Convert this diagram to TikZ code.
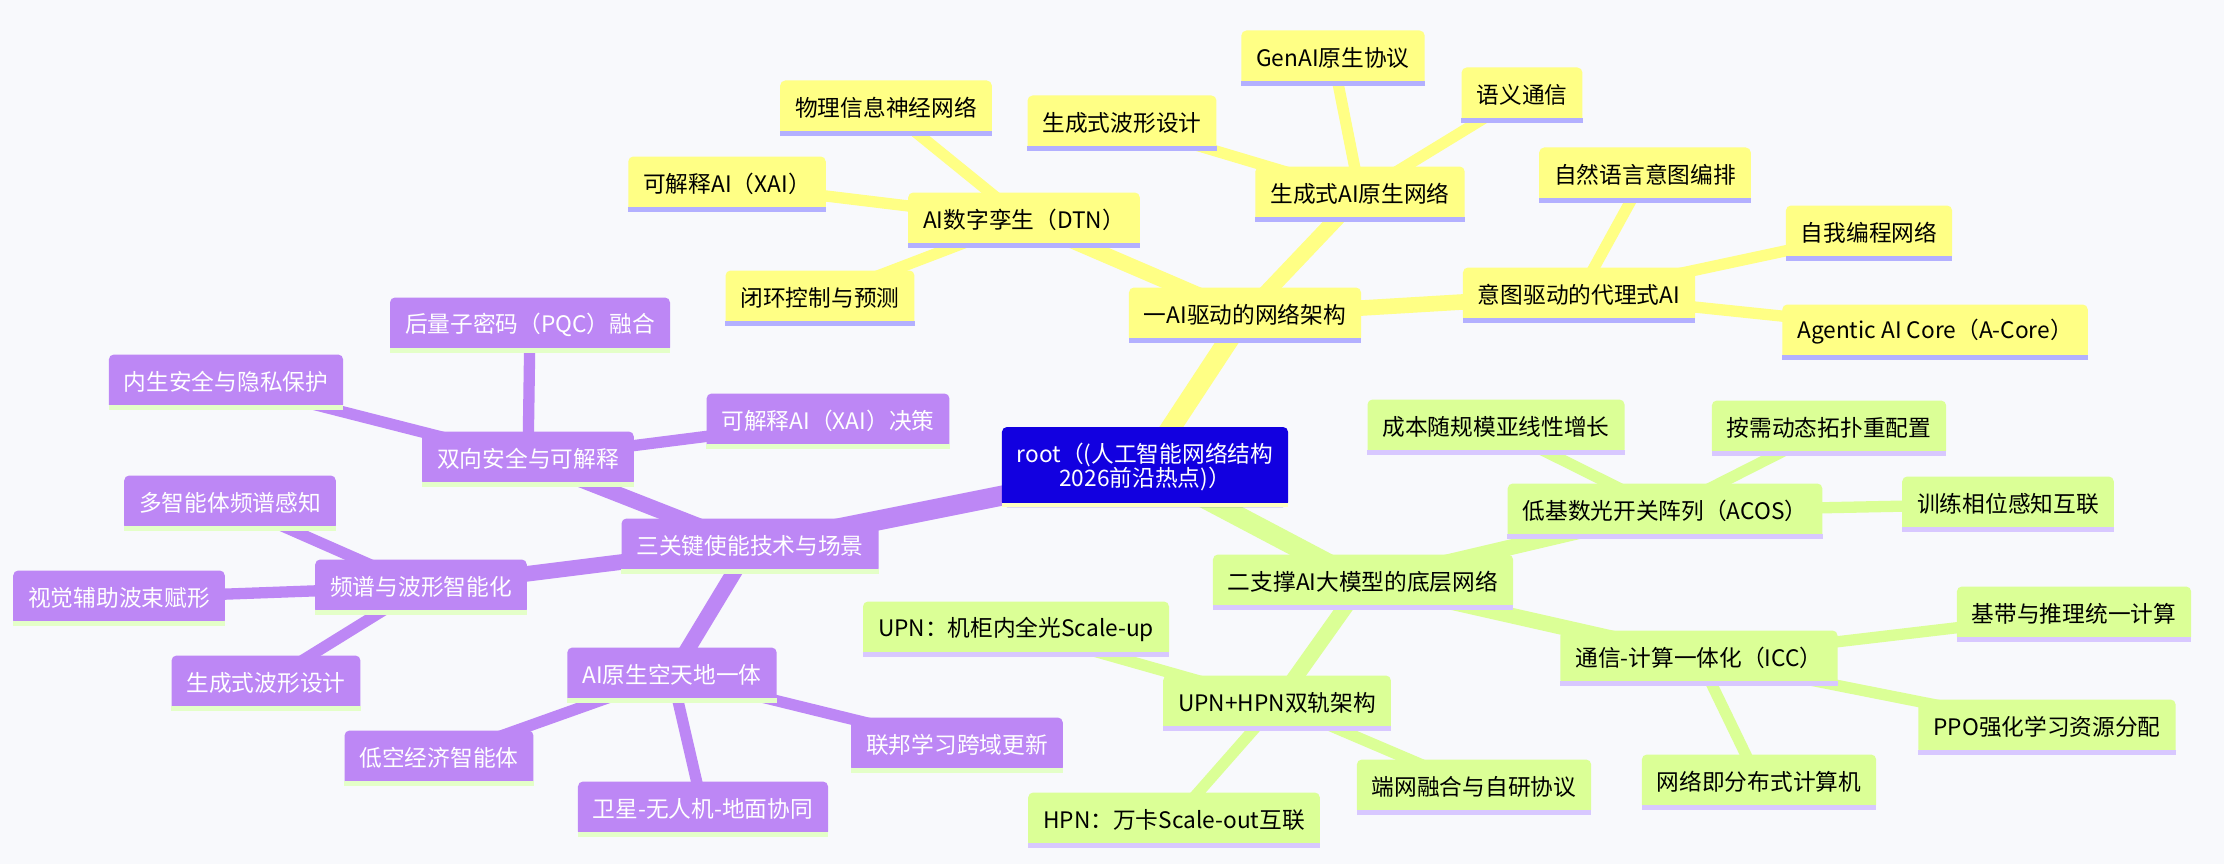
\documentclass[tikz,border=0pt]{standalone}
\usepackage{fontspec}
\setmainfont{Noto Sans CJK SC}
\definecolor{MMYellow}{HTML}{FFFF85}
\definecolor{MMGreen}{HTML}{DBFF96}
\definecolor{MMPurple}{HTML}{BD87F5}
\definecolor{MMBlue}{HTML}{1200E0}
\definecolor{MMLavender}{HTML}{B3B0FF}
\definecolor{MMLilac}{HTML}{D8C8FF}
\definecolor{MMMint}{HTML}{E4FFC8}
\definecolor{MMCream}{HTML}{FFFFC0}
\definecolor{MMBack}{HTML}{F8F9FC}
\usepackage{tikz}
\usetikzlibrary{backgrounds}
\begin{document}
\begin{tikzpicture}[
    x=1pt, y=-1pt,
    mm/.style={rounded corners=5pt, minimum height=55pt, inner xsep=15pt, inner ysep=0pt, align=center, font=\fontsize{22.7}{24}\selectfont},
    ynode/.style={mm, fill=MMYellow},
    gnode/.style={mm, fill=MMGreen},
    pnode/.style={mm, fill=MMPurple, text=white},
    e0/.style={line width=20pt},
    e1/.style={line width=15.6pt},
    e2/.style={line width=11.3pt}
  ]
  \useasboundingbox (0,0) rectangle (2224,864);
  \node[mm, fill=MMBlue, text=white, minimum height=80pt] (root) at (1145,467) {root（(人工智能网络结构\\2026前沿热点)）};

  \node[ynode] (ai) at (1245,315) {一AI驱动的网络架构};
  \node[ynode] (dtn) at (1024,220) {AI数字孪生（DTN）};
  \node[ynode] (gen) at (1360,194) {生成式AI原生网络};
  \node[ynode] (intent) at (1579,295) {意图驱动的代理式AI};
  \node[ynode] (phys) at (886,108) {物理信息神经网络};
  \node[ynode] (xai) at (727,184) {可解释AI（XAI）};
  \node[ynode] (ctrl) at (820,298) {闭环控制与预测};
  \node[ynode] (wave) at (1122,123) {生成式波形设计};
  \node[ynode] (genp) at (1333,58) {GenAI原生协议};
  \node[ynode] (sem) at (1522,95) {语义通信};
  \node[ynode] (nl) at (1645,175) {自然语言意图编排};
  \node[ynode] (selfp) at (1869,233) {自我编程网络};
  \node[ynode] (acore) at (1935,332) {Agentic AI Core（A-Core）};

  \node[gnode] (sup) at (1363,582) {二支撑AI大模型的底层网络};
  \node[gnode] (acos) at (1665,511) {低基数光开关阵列（ACOS）};
  \node[gnode] (cost) at (1496,427) {成本随规模亚线性增长};
  \node[gnode] (topo) at (1829,428) {按需动态拓扑重配置};
  \node[gnode] (phase) at (2008,504) {训练相位感知互联};
  \node[gnode] (icc) at (1699,658) {通信-计算一体化（ICC）};
  \node[gnode] (base) at (2074,614) {基带与推理统一计算};
  \node[gnode] (ppo) at (2047,727) {PPO强化学习资源分配};
  \node[gnode] (dist) at (1759,782) {网络即分布式计算机};
  \node[gnode] (upn) at (1277,703) {UPN+HPN双轨架构};
  \node[gnode] (upnin) at (1016,629) {UPN：机柜内全光Scale-up};
  \node[gnode] (endnet) at (1474,787) {端网融合与自研协议};
  \node[gnode] (hpn) at (1174,820) {HPN：万卡Scale-out互联};

  \node[pnode] (key) at (750,546) {三关键使能技术与场景};
  \node[pnode] (sec) at (528,459) {双向安全与可解释};
  \node[pnode] (pqc) at (530,325) {后量子密码（PQC）融合};
  \node[pnode] (inner) at (226,382) {内生安全与隐私保护};
  \node[pnode] (xaid) at (828,421) {可解释AI（XAI）决策};
  \node[pnode] (spec) at (421,587) {频谱与波形智能化};
  \node[pnode] (multi) at (230,503) {多智能体频谱感知};
  \node[pnode] (vis) at (119,598) {视觉辅助波束赋形};
  \node[pnode] (pwave) at (266,683) {生成式波形设计};
  \node[pnode] (sagin) at (672,675) {AI原生空天地一体};
  \node[pnode] (low) at (439,758) {低空经济智能体};
  \node[pnode] (sat) at (703,809) {卫星-无人机-地面协同};
  \node[pnode] (fed) at (957,745) {联邦学习跨域更新};

  \fill[MMCream] (root.south west) rectangle ([yshift=4pt]root.south east);
  \foreach \n in {ai,dtn,gen,intent,phys,xai,ctrl,wave,genp,sem,nl,selfp,acore}
    \fill[MMLavender] (\n.south west) rectangle ([yshift=5pt]\n.south east);
  \foreach \n in {sup,acos,cost,topo,phase,icc,base,ppo,dist,upn,upnin,endnet,hpn}
    \fill[MMLilac] (\n.south west) rectangle ([yshift=5pt]\n.south east);
  \foreach \n in {key,sec,pqc,inner,xaid,spec,multi,vis,pwave,sagin,low,sat,fed}
    \fill[MMMint] (\n.south west) rectangle ([yshift=5pt]\n.south east);

  \begin{scope}[on background layer]
    \fill[MMBack] (0,0) rectangle (2224,864);
    \draw[e0, MMYellow] (root.center) -- (ai.center);
    \draw[e0, MMGreen] (root.center) -- (sup.center);
    \draw[e0, MMPurple] (root.center) -- (key.center);
    \foreach \b in {dtn,gen,intent}
      \draw[e1, MMYellow] (ai.center) -- (\b.center);
    \foreach \a/\b in {dtn/phys,dtn/xai,dtn/ctrl,gen/wave,gen/genp,gen/sem,intent/nl,intent/selfp,intent/acore}
      \draw[e2, MMYellow] (\a.center) -- (\b.center);
    \foreach \b in {acos,icc,upn}
      \draw[e1, MMGreen] (sup.center) -- (\b.center);
    \foreach \a/\b in {acos/cost,acos/topo,acos/phase,icc/base,icc/ppo,icc/dist,upn/upnin,upn/hpn,upn/endnet}
      \draw[e2, MMGreen] (\a.center) -- (\b.center);
    \foreach \b in {sec,spec,sagin}
      \draw[e1, MMPurple] (key.center) -- (\b.center);
    \foreach \a/\b in {sec/pqc,sec/inner,sec/xaid,spec/multi,spec/vis,spec/pwave,sagin/low,sagin/sat,sagin/fed}
      \draw[e2, MMPurple] (\a.center) -- (\b.center);
  \end{scope}
\end{tikzpicture}
\end{document}
